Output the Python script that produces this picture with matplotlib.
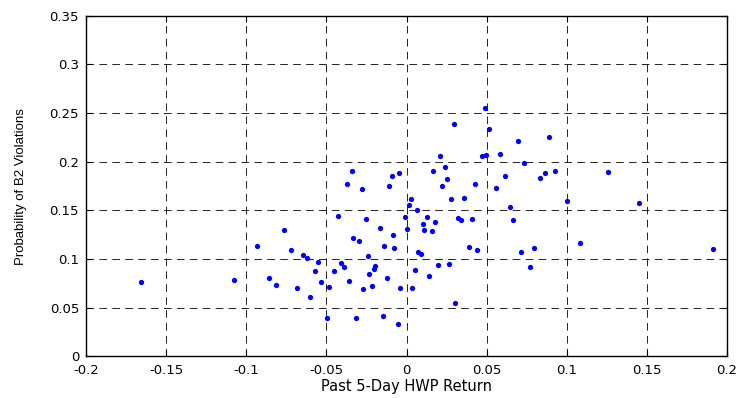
import matplotlib
matplotlib.use('Agg')
import matplotlib.pyplot as plt

# Past 5-day HWP return vs probability of B2 violations
returns = [
    -0.1656, -0.1079, -0.0931, -0.0767, -0.0858, -0.0813, -0.0721, -0.0683,
    -0.0646, -0.0619, -0.0602, -0.0554, -0.0573, -0.0535, -0.0498, -0.0481,
    -0.0452, -0.0425, -0.0406, -0.0388, -0.0360, -0.0333, -0.0315, -0.0294,
    -0.0269, -0.0250, -0.0240, -0.0231, -0.0213, -0.0204, -0.0194, -0.0167,
    -0.0148, -0.0140, -0.0119, -0.0083, -0.0075, -0.0056, -0.0038, -0.0008,
    0.0000, 0.0017, 0.0035, 0.0056, 0.0065, 0.0073, 0.0092, 0.0100,
    0.0110, 0.0129, 0.0140, 0.0158, 0.0177, 0.0194, 0.0267, 0.0304,
    0.0319, 0.0338, 0.0388, 0.0408, 0.0442,
    0.0490, 0.0296, 0.0515, 0.0210, 0.0469, 0.0498, -0.0342, -0.0371,
    -0.0277, -0.0092, -0.0046, -0.0110, 0.0167, 0.0240, 0.0250, 0.0221,
    0.0425, 0.0025, 0.0275, 0.0360,
    0.0696, 0.0890, 0.0585, 0.0731, 0.0613, 0.0556, 0.0835, 0.0863,
    0.0925, 0.1258,
    0.0648, 0.1000, 0.1452, 0.0667, 0.1083, 0.0715, 0.0796, 0.0771,
    0.1915,
]
prob = [
    0.0769, 0.0789, 0.1133, 0.1296, 0.0810, 0.0735, 0.1092, 0.0707,
    0.1044, 0.1010, 0.0616, 0.0973, 0.0881, 0.0769, 0.0395, 0.0718,
    0.0881, 0.1439, 0.0963, 0.0918, 0.0779, 0.1218, 0.0395, 0.1184,
    0.0697, 0.1408, 0.1031, 0.0850, 0.0728, 0.0898, 0.0925, 0.1316,
    0.0412, 0.1133, 0.0810, 0.1245, 0.1112, 0.0330, 0.0707, 0.1429,
    0.1306, 0.1558, 0.0707, 0.0891, 0.1507, 0.1075, 0.1054, 0.1357,
    0.1296, 0.1429, 0.0827, 0.1286, 0.1378, 0.0939, 0.0952, 0.0554,
    0.1418, 0.1398, 0.1122, 0.1408, 0.1092,
    0.2551, 0.2388, 0.2337, 0.2061, 0.2061, 0.2071, 0.1908, 0.1769,
    0.1724, 0.1857, 0.1888, 0.1748, 0.1908, 0.1949, 0.1827, 0.1755,
    0.1769, 0.1619, 0.1619, 0.1626,
    0.2214, 0.2255, 0.2082, 0.1990, 0.1857, 0.1728, 0.1837, 0.1888,
    0.1908, 0.1898,
    0.1537, 0.1592, 0.1578, 0.1398, 0.1163, 0.1071, 0.1112, 0.0918,
    0.1102,
]

xticks = [-0.2, -0.15, -0.1, -0.05, 0, 0.05, 0.1, 0.15, 0.2]
xticklabels = ['-0.2', '-0.15', '-0.1', '-0.05', '0', '0.05', '0.1', '0.15', '0.2']
yticks = [0, 0.05, 0.1, 0.15, 0.2, 0.25, 0.3, 0.35]
yticklabels = ['0', '0.05', '0.1', '0.15', '0.2', '0.25', '0.3', '0.35']

plt.rcParams['font.family'] = ['DejaVu Sans']
plt.rcParams['lines.scale_dashes'] = False

fig = plt.figure(figsize=(7.42, 3.98), dpi=100)
ax = fig.add_axes([0.1159, 0.1043, 0.8639, 0.8563])

ax.plot(returns, prob, linestyle='none', marker='o', markersize=3.8,
        color='#0000ff', markeredgewidth=0)

ax.set_xlim(-0.2, 0.2)
ax.set_ylim(0, 0.35)
ax.set_xticks(xticks)
ax.set_xticklabels(xticklabels)
ax.set_yticks(yticks)
ax.set_yticklabels(yticklabels)

ax.grid(True, color='black', linestyle=(0, (5.5, 3.8)), linewidth=0.6)
ax.tick_params(direction='in', top=True, right=True, length=4, width=0.8,
               labelsize=9.5)
ax.tick_params(axis='x', pad=5.5)
ax.tick_params(axis='y', pad=5)
for s in ax.spines.values():
    s.set_linewidth(1.0)

ax.set_xlabel('Past 5-Day HWP Return', fontsize=10.5, labelpad=1)
ax.set_ylabel('Probability of B2 Violations', fontsize=9.5,
              family=['Liberation Sans', 'DejaVu Sans'], labelpad=16)

fig.savefig('out.png', dpi=100)
